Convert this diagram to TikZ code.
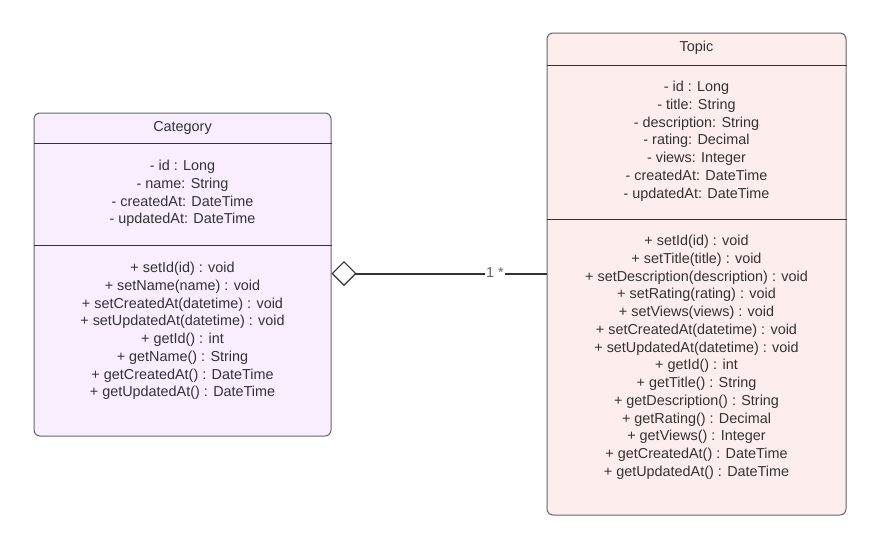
\documentclass[tikz,border=0pt]{standalone}
\usepackage{fontspec}
\setmainfont{Liberation Sans}
\usetikzlibrary{arrows.meta}
\definecolor{catfill}{HTML}{F9EEFF}
\definecolor{topfill}{HTML}{FDEEED}
\definecolor{edge}{HTML}{666666}
\definecolor{txt}{HTML}{333333}
\tikzset{
  x=1pt,y=-1pt,
  umlbox/.style={draw=edge, line width=1pt, rounded corners=6pt, inner sep=0pt},
  sepline/.style={draw=txt, line width=0.9pt},
  members/.style={text=txt, align=center, font=\fontsize{14.4}{17.75}\selectfont, inner sep=0pt, anchor=north},
  title/.style={text=txt, font=\fontsize{14.4}{15}\selectfont, inner sep=0pt},
}
\begin{document}
\begin{tikzpicture}
\useasboundingbox (0,0) rectangle (879,549);
% Category
\node[umlbox, fill=catfill, minimum width=297pt, minimum height=323pt] (cat) at (182.5,274.5) {};
\node[title] (cattitle) at (182.5,127.5) {Category};
\coordinate (cs1) at (34,143);
\coordinate (cs2) at (34,245);
\draw[sepline] (cs1) -- (cs1 -| cat.east);
\draw[sepline] (cs2) -- (cs2 -| cat.east);
\node[members] (catattr) at (182.5,160) {- id : Long\\- name: String\\- createdAt: DateTime\\- updatedAt: DateTime};
\node[members] (catmeth) at (182.5,262) {+ setId(id) : void\\+ setName(name) : void\\+ setCreatedAt(datetime) : void\\+ setUpdatedAt(datetime) : void\\+ getId() : int\\+ getName() : String\\+ getCreatedAt() : DateTime\\+ getUpdatedAt() : DateTime};
% Topic
\node[umlbox, fill=topfill, minimum width=299pt, minimum height=482pt] (top) at (696.5,274) {};
\node[title] (toptitle) at (696.5,47.5) {Topic};
\coordinate (ts1) at (547,65);
\coordinate (ts2) at (547,219);
\draw[sepline] (ts1) -- (ts1 -| top.east);
\draw[sepline] (ts2) -- (ts2 -| top.east);
\node[members] (topattr) at (696.5,81) {- id : Long\\- title: String\\- description: String\\- rating: Decimal\\- views: Integer\\- createdAt: DateTime\\- updatedAt: DateTime};
\node[members] (topmeth) at (696.5,235) {+ setId(id) : void\\+ setTitle(title) : void\\+ setDescription(description) : void\\+ setRating(rating) : void\\+ setViews(views) : void\\+ setCreatedAt(datetime) : void\\+ setUpdatedAt(datetime) : void\\+ getId() : int\\+ getTitle() : String\\+ getDescription() : String\\+ getRating() : Decimal\\+ getViews() : Integer\\+ getCreatedAt() : DateTime\\+ getUpdatedAt() : DateTime};
% Connector
\coordinate (cy) at (0,273.5);
\draw[txt, line width=2pt, -{Diamond[open, length=25pt, width=25pt, line width=1.2pt]}] (top.west |- cy) -- (cat.east |- cy);
\node[fill=white, text=edge, font=\fontsize{14.4}{15}\selectfont, inner sep=1pt] (mult) at (495,273) {1 *};
\end{tikzpicture}
\end{document}
